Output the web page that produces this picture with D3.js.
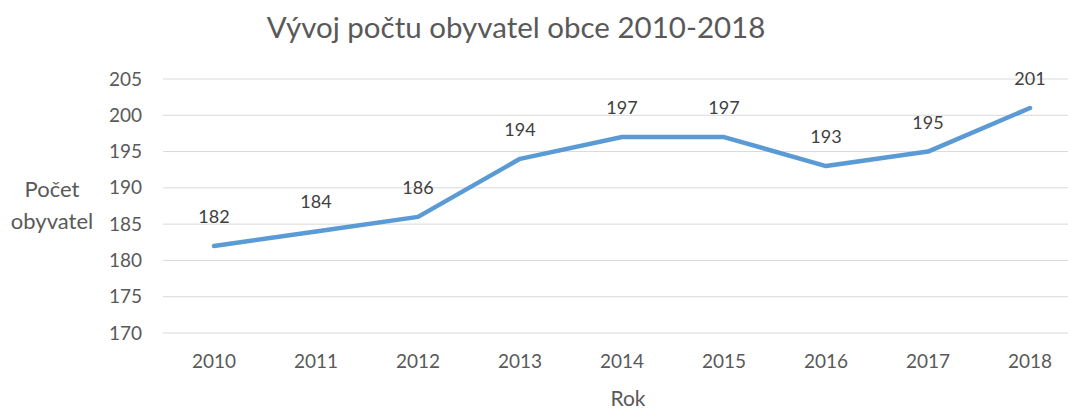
<!DOCTYPE html>
<html>
<head>
<meta charset="utf-8">
<script src="https://cdn.jsdelivr.net/npm/d3@7"></script>
<style>
  body { margin: 0; background: #fff; }
  text { font-family: Lato, "Open Sans", sans-serif; }
</style>
</head>
<body>
<script>
// data
var years = ["2010", "2011", "2012", "2013", "2014", "2015", "2016", "2017", "2018"];
var population = [182, 184, 186, 194, 197, 197, 193, 195, 201];
var yTicks = [170, 175, 180, 185, 190, 195, 200, 205];

var width = 1068, height = 409;
var margin = {top: 79, right: -13, bottom: 76, left: 163};

var svg = d3.select("body")
    .append("svg")
    .attr("width", width)
    .attr("height", height);

var xscale = d3.scaleBand()
    .domain(years)
    .range([margin.left, width - margin.right]);

var yscale = d3.scaleLinear()
    .domain([170, 205])
    .range([height - margin.bottom, margin.top]);

// gridlines
svg.append("g")
    .selectAll("line")
    .data(yTicks)
    .join("line")
    .attr("x1", margin.left)
    .attr("x2", width - margin.right)
    .attr("y1", d => yscale(d))
    .attr("y2", d => yscale(d))
    .attr("stroke", "#d9d9d9")
    .attr("stroke-width", 1);

// y axis
svg.append("g")
    .attr("transform", `translate(${margin.left - 21},0)`)
    .call(d3.axisLeft(yscale).tickValues(yTicks).tickSize(0).tickPadding(0))
    .call(g => g.select(".domain").remove())
    .call(g => g.selectAll("text")
        .attr("fill", "#595959")
        .style("font-size", "19px")
        .style("font-family", "Lato, 'Open Sans', sans-serif"));

// x axis
svg.append("g")
    .attr("transform", `translate(0,${height - margin.bottom})`)
    .call(d3.axisBottom(xscale).tickSize(0).tickPadding(22))
    .call(g => g.select(".domain").remove())
    .call(g => g.selectAll("text")
        .attr("fill", "#595959")
        .style("font-size", "19px")
        .style("font-family", "Lato, 'Open Sans', sans-serif"));

var line = d3.line()
    .x((d, i) => xscale(years[i]) + xscale.bandwidth() / 2)
    .y(d => yscale(d));

svg.append("path")
    .datum(population)
    .attr("fill", "none")
    .attr("stroke", "#5b9bd5")
    .attr("stroke-width", 4.5)
    .attr("stroke-linecap", "round")
    .attr("stroke-linejoin", "round")
    .attr("d", line);

// data labels
svg.append("g")
    .selectAll("text")
    .data(population)
    .join("text")
    .attr("x", (d, i) => xscale(years[i]) + xscale.bandwidth() / 2)
    .attr("y", d => yscale(d) - 23)
    .attr("text-anchor", "middle")
    .attr("fill", "#404040")
    .style("font-size", "18px")
    .text(d => d);

// title
svg.append("text")
    .attr("x", 516)
    .attr("y", 38)
    .attr("text-anchor", "middle")
    .attr("fill", "#595959")
    .style("font-size", "29.5px")
    .text("Vývoj počtu obyvatel obce 2010-2018");

// axis titles
var ylab = svg.append("text")
    .attr("text-anchor", "middle")
    .attr("fill", "#595959")
    .style("font-size", "22px");
ylab.append("tspan").attr("x", 52).attr("y", 197).text("Počet");
ylab.append("tspan").attr("x", 52).attr("y", 229).text("obyvatel");

svg.append("text")
    .attr("x", 628)
    .attr("y", 406)
    .attr("text-anchor", "middle")
    .attr("fill", "#595959")
    .style("font-size", "21px")
    .text("Rok");
</script>
</body>
</html>
